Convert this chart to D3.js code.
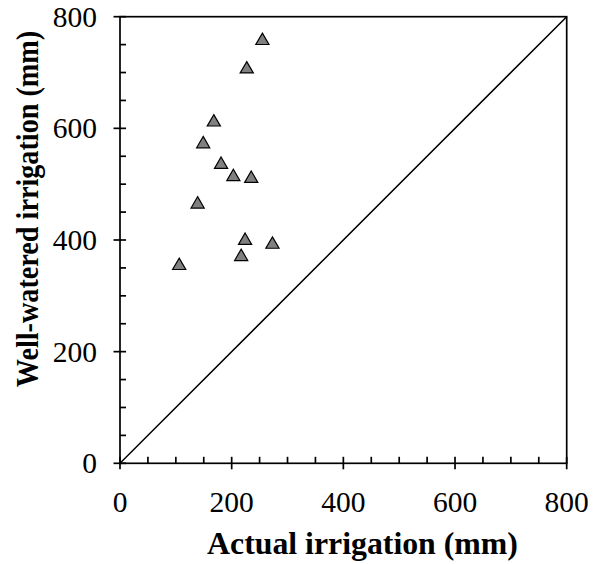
<!DOCTYPE html>
<html><head><meta charset="utf-8">
<script src="https://cdn.jsdelivr.net/npm/d3@7"></script>
<style>body{margin:0;background:#fff}svg{display:block}</style>
</head><body>
<script>
const actual = [255, 227, 168, 149, 181, 203, 235, 139, 224, 273, 217, 106];
const wellWatered = [757, 706, 611, 572, 535, 513, 510, 464, 399, 392, 370, 354];
const majorTicks = [0, 200, 400, 600, 800];
const minorTicks = d3.range(0, 801, 50);
const xTitle = "Actual irrigation (mm)";
const yTitle = "Well-watered irrigation (mm)";

const W = 593, H = 564;
const svg = d3.select("body").append("svg").attr("width", W).attr("height", H);
const x = d3.scaleLinear().domain([0, 800]).range([120, 566.7]);
const y = d3.scaleLinear().domain([0, 800]).range([463.3, 16.7]);
const font = "'Liberation Serif','Times New Roman',serif";
const sw = 1.7;

// minor ticks (inward)
svg.append("g").selectAll("line").data(minorTicks).join("line")
  .attr("x1", d => x(d)).attr("x2", d => x(d))
  .attr("y1", y(0)).attr("y2", y(0) - 6.5)
  .attr("stroke", "#000").attr("stroke-width", sw);
svg.append("g").selectAll("line").data(minorTicks).join("line")
  .attr("y1", d => y(d)).attr("y2", d => y(d))
  .attr("x1", x(0)).attr("x2", x(0) + 6)
  .attr("stroke", "#000").attr("stroke-width", sw);
// major ticks (outward)
svg.append("g").selectAll("line").data(majorTicks).join("line")
  .attr("x1", d => x(d)).attr("x2", d => x(d))
  .attr("y1", y(0)).attr("y2", y(0) + 6)
  .attr("stroke", "#000").attr("stroke-width", sw);
svg.append("g").selectAll("line").data(majorTicks).join("line")
  .attr("y1", d => y(d)).attr("y2", d => y(d))
  .attr("x1", x(0)).attr("x2", x(0) - 6.5)
  .attr("stroke", "#000").attr("stroke-width", sw);

// frame
svg.append("rect").attr("x", x(0)).attr("y", y(800))
  .attr("width", x(800) - x(0)).attr("height", y(0) - y(800))
  .attr("fill", "none").attr("stroke", "#000").attr("stroke-width", sw);

// 1:1 line
svg.append("line").attr("x1", x(0)).attr("y1", y(0)).attr("x2", x(800)).attr("y2", y(800))
  .attr("stroke", "#000").attr("stroke-width", 1.5);

// tick labels
svg.append("g").selectAll("text").data(majorTicks).join("text")
  .attr("x", d => x(d)).attr("y", 512)
  .attr("text-anchor", "middle").attr("font-family", font).attr("font-size", 29.5)
  .text(d => d);
svg.append("g").selectAll("text").data(majorTicks).join("text")
  .attr("x", 97).attr("y", d => y(d)).attr("dy", "0.34em")
  .attr("text-anchor", "end").attr("font-family", font).attr("font-size", 29.5)
  .text(d => d);

// titles
svg.append("text").attr("x", 362.5).attr("y", 554)
  .attr("text-anchor", "middle").attr("font-family", font).attr("font-size", 31.8)
  .attr("font-weight", "bold").text(xTitle);
svg.append("text").attr("transform", "translate(38,209) rotate(-90) scale(1,1.1)")
  .attr("text-anchor", "middle").attr("font-family", font).attr("font-size", 28.2)
  .attr("font-weight", "bold").text(yTitle);

// points
const tri = d3.symbol().type(d3.symbolTriangle).size(75);
svg.append("g").selectAll("path").data(actual.map((a, i) => [a, wellWatered[i]])).join("path")
  .attr("d", tri)
  .attr("transform", d => `translate(${x(d[0])},${y(d[1])})`)
  .attr("fill", "#808080").attr("stroke", "#000").attr("stroke-width", 1.2);
</script>
</body></html>
